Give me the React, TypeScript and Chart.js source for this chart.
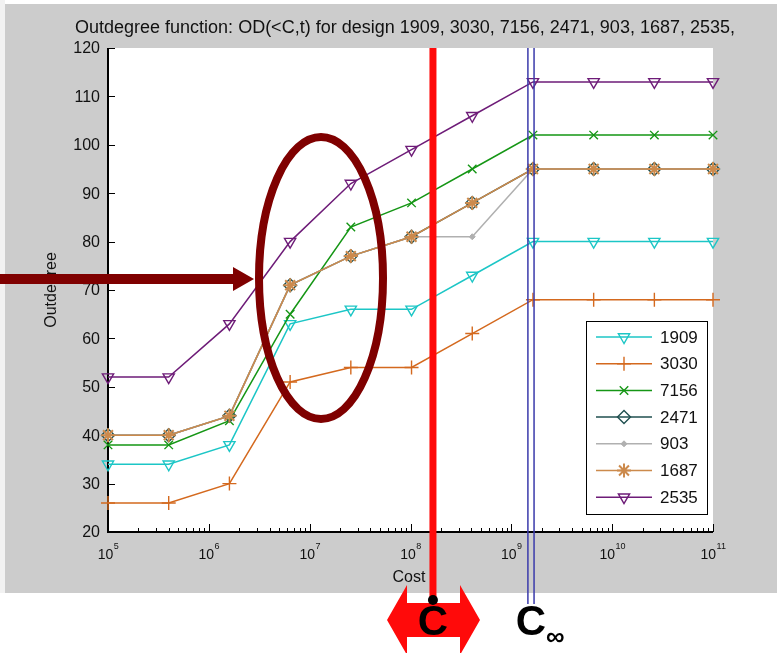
import React, { useEffect, useRef } from 'react';
import { Chart, registerables } from 'chart.js';
import { drawPoint } from 'chart.js/helpers';

Chart.register(...registerables);

// ---- data ----
const costs = [1e5, 4e5, 1.6e6, 6.4e6, 2.56e7, 1.024e8, 4.096e8, 1.6384e9, 6.5536e9, 2.62144e10, 1e11];
const designs = ['1909', '3030', '7156', '2471', '903', '1687', '2535'];
const od1909 = [34, 34, 38, 63, 66, 66, 73, 80, 80, 80, 80];
const od3030 = [26, 26, 30, 51, 54, 54, 61, 68, 68, 68, 68];
const od7156 = [38, 38, 43, 65, 83, 88, 95, 102, 102, 102, 102];
const od2471 = [40, 40, 44, 71, 77, 81, 88, 95, 95, 95, 95];
const od903 = [40, 40, 44, 71, 77, 81, 81, 95, 95, 95, 95];
const od1687 = [40, 40, 44, 71, 77, 81, 88, 95, 95, 95, 95];
const od2535 = [52, 52, 63, 80, 92, 99, 106, 113, 113, 113, 113];
const yTicks = [20, 30, 40, 50, 60, 70, 80, 90, 100, 110, 120];
const xTickExps = [5, 6, 7, 8, 9, 10, 11];
const cCost = 1.67e8;
const cInfLow = 1.46e9;
const cInfHigh = 1.68e9;

const seriesValues = [od1909, od3030, od7156, od2471, od903, od1687, od2535];

const FONT = "'Liberation Sans', Arial, sans-serif";

const styles = [
  { color: '#1cc6c6', pointStyle: 'triangle', rotation: 180, radius: 6.5, filled: false, bw: 1.4 },
  { color: '#d4691e', pointStyle: 'cross', rotation: 0, radius: 7, filled: false, bw: 1.4 },
  { color: '#159615', pointStyle: 'crossRot', rotation: 0, radius: 6, filled: false, bw: 1.4 },
  { color: '#1f4f4f', pointStyle: 'rectRot', rotation: 0, radius: 6.5, filled: false, bw: 1.4 },
  { color: '#b0b0b0', pointStyle: 'rectRot', rotation: 0, radius: 3, filled: true, bw: 1 },
  { color: '#cc8a4c', pointStyle: 'star', rotation: 0, radius: 7, filled: false, bw: 2 },
  { color: '#6e1c78', pointStyle: 'triangle', rotation: 180, radius: 6.5, filled: false, bw: 1.4 },
];

const decorPlugin = {
  id: 'decor',
  beforeDraw(chart: any) {
    const ctx = chart.ctx;
    const { left, right, top, bottom } = chart.chartArea;
    ctx.save();
    ctx.fillStyle = '#ffffff';
    ctx.fillRect(0, 0, chart.width, chart.height);
    ctx.fillStyle = '#f2f2f2';
    ctx.fillRect(0, 0, 5, 593);
    ctx.fillStyle = '#cccccc';
    ctx.fillRect(5, 4, chart.width - 5, 589);
    ctx.fillStyle = '#ffffff';
    ctx.fillRect(left, top, right - left, bottom - top);
    ctx.restore();
  },
  beforeDatasetsDraw(chart: any) {
    const ctx = chart.ctx;
    const xs = chart.scales.x;
    const ys = chart.scales.y;
    const { left, right, top, bottom } = chart.chartArea;
    ctx.save();
    ctx.strokeStyle = '#000';
    ctx.lineWidth = 1;
    // y ticks inward
    ctx.beginPath();
    yTicks.forEach((v) => {
      const y = Math.round(ys.getPixelForValue(v)) + 0.5;
      ctx.moveTo(left, y);
      ctx.lineTo(left + 7, y);
    });
    // x ticks inward, major + minor
    xTickExps.forEach((e) => {
      const x = Math.round(xs.getPixelForValue(Math.pow(10, e))) + 0.5;
      ctx.moveTo(x, bottom);
      ctx.lineTo(x, bottom - 8);
      if (e < 11) {
        for (let k = 2; k <= 9; k++) {
          const xm = Math.round(xs.getPixelForValue(k * Math.pow(10, e))) + 0.5;
          ctx.moveTo(xm, bottom);
          ctx.lineTo(xm, bottom - 4);
        }
      }
    });
    ctx.stroke();
    // axis lines
    ctx.lineWidth = 2;
    ctx.beginPath();
    ctx.moveTo(left, top);
    ctx.lineTo(left, bottom);
    ctx.lineTo(right, bottom);
    ctx.stroke();

    // tick labels
    ctx.fillStyle = '#111';
    ctx.font = `16px ${FONT}`;
    ctx.textAlign = 'right';
    ctx.textBaseline = 'middle';
    yTicks.forEach((v) => {
      ctx.fillText(String(v), left - 8, ys.getPixelForValue(v) + 1);
    });
    ctx.textBaseline = 'alphabetic';
    ctx.textAlign = 'left';
    xTickExps.forEach((e) => {
      const x = xs.getPixelForValue(Math.pow(10, e));
      ctx.font = `14px ${FONT}`;
      const w1 = ctx.measureText('10').width;
      ctx.font = `9px ${FONT}`;
      const w2 = ctx.measureText(String(e)).width;
      const x0 = x - (w1 + w2) / 2;
      ctx.font = `14px ${FONT}`;
      ctx.fillText('10', x0, 559);
      ctx.font = `9px ${FONT}`;
      ctx.fillText(String(e), x0 + w1 + 0.5, 549);
    });

    // axis titles
    ctx.font = `16px ${FONT}`;
    ctx.textAlign = 'center';
    ctx.fillText('Cost', 409, 582);
    ctx.save();
    ctx.translate(56, 290);
    ctx.rotate(-Math.PI / 2);
    ctx.fillText('Outdegree', 0, 0);
    ctx.restore();

    // title
    ctx.font = `18px ${FONT}`;
    ctx.textAlign = 'center';
    ctx.fillText('Outdegree function: OD(<C,t) for design 1909, 3030, 7156, 2471, 903, 1687, 2535,', 405, 33);
    ctx.restore();
  },
  afterDraw(chart: any) {
    const ctx = chart.ctx;
    const xs = chart.scales.x;
    const { top } = chart.chartArea;
    ctx.save();

    // legend
    const lx = 586, ly = 321, lw = 121, lh = 193;
    ctx.fillStyle = '#fff';
    ctx.fillRect(lx, ly, lw, lh);
    ctx.strokeStyle = '#000';
    ctx.lineWidth = 1;
    ctx.strokeRect(lx + 0.5, ly + 0.5, lw, lh);
    designs.forEach((d, i) => {
      const st = styles[i];
      const y = 337 + i * 26.7;
      ctx.strokeStyle = st.color;
      ctx.lineWidth = 1.5;
      ctx.beginPath();
      ctx.moveTo(596, y);
      ctx.lineTo(652, y);
      ctx.stroke();
      ctx.fillStyle = st.filled ? st.color : 'rgba(0,0,0,0)';
      ctx.lineWidth = st.bw;
      drawPoint(ctx, { pointStyle: st.pointStyle, rotation: st.rotation, radius: st.radius, borderWidth: st.bw } as any, 624, y);
      ctx.fillStyle = '#111';
      ctx.font = `17px ${FONT}`;
      ctx.textAlign = 'left';
      ctx.textBaseline = 'middle';
      ctx.fillText(d, 660, y + 1);
    });

    // red C line
    const xc = xs.getPixelForValue(cCost);
    ctx.fillStyle = '#ff0a0a';
    ctx.fillRect(xc - 3.5, top, 7, 600 - top);
    // red double arrow
    ctx.beginPath();
    ctx.moveTo(387, 620);
    ctx.lineTo(407, 585);
    ctx.lineTo(407, 603);
    ctx.lineTo(460, 603);
    ctx.lineTo(460, 585);
    ctx.lineTo(480, 620);
    ctx.lineTo(460, 655);
    ctx.lineTo(460, 637);
    ctx.lineTo(407, 637);
    ctx.lineTo(407, 655);
    ctx.closePath();
    ctx.fill();
    // black dot
    ctx.fillStyle = '#000';
    ctx.beginPath();
    ctx.arc(xc, 600, 5, 0, Math.PI * 2);
    ctx.fill();

    // blue C-infinity lines
    ctx.strokeStyle = '#3b3bab';
    ctx.lineWidth = 1.5;
    ctx.beginPath();
    [cInfLow, cInfHigh].forEach((v) => {
      const x = xs.getPixelForValue(v);
      ctx.moveTo(x, top);
      ctx.lineTo(x, 604);
    });
    ctx.stroke();

    // letters
    ctx.fillStyle = '#000';
    ctx.font = `bold 42px ${FONT}`;
    ctx.textAlign = 'center';
    ctx.textBaseline = 'alphabetic';
    ctx.fillText('C', 433, 635);
    ctx.fillText('C', 531, 635);
    ctx.font = `bold 26px ${FONT}`;
    ctx.textAlign = 'left';
    ctx.fillText('\u221E', 546, 645);

    // ellipse
    ctx.strokeStyle = '#7f0000';
    ctx.lineWidth = 8;
    ctx.beginPath();
    ctx.ellipse(321, 278, 62, 141, 0, 0, Math.PI * 2);
    ctx.stroke();

    // arrow
    ctx.fillStyle = '#7f0000';
    ctx.beginPath();
    ctx.moveTo(0, 274);
    ctx.lineTo(233, 274);
    ctx.lineTo(233, 267);
    ctx.lineTo(254, 279);
    ctx.lineTo(233, 291);
    ctx.lineTo(233, 284);
    ctx.lineTo(0, 284);
    ctx.closePath();
    ctx.fill();

    ctx.restore();
  },
};

export default function App() {
  const ref = useRef<HTMLCanvasElement | null>(null);
  useEffect(() => {
    if (!ref.current) return;
    const datasets = designs.map((d, i) => {
      const st = styles[i];
      return {
        label: d,
        data: costs.map((c, j) => ({ x: c, y: seriesValues[i][j] })),
        borderColor: st.color,
        backgroundColor: st.filled ? st.color : 'rgba(0,0,0,0)',
        borderWidth: 1.5,
        pointStyle: st.pointStyle,
        pointRotation: st.rotation,
        pointRadius: st.radius,
        pointBorderWidth: st.bw,
        pointBorderColor: st.color,
        pointBackgroundColor: st.filled ? st.color : 'rgba(0,0,0,0)',
        tension: 0,
        clip: false,
        order: designs.length - i,
      };
    });
    const chart = new Chart(ref.current, {
      type: 'line',
      data: { datasets: datasets as any },
      options: {
        responsive: false,
        animation: false,
        events: [],
        layout: { autoPadding: false, padding: { left: 8, right: 64, top: 48, bottom: 0 } },
        scales: {
          x: {
            type: 'logarithmic',
            min: 1e5,
            max: 1e11,
            grid: { display: false },
            border: { display: false },
            ticks: { display: false },
            afterFit: (s: any) => { s.height = 121; },
          },
          y: {
            type: 'linear',
            min: 20,
            max: 120,
            grid: { display: false },
            border: { display: false },
            ticks: { display: false },
            afterFit: (s: any) => { s.width = 100; },
          },
        },
        plugins: { legend: { display: false }, tooltip: { enabled: false }, title: { display: false } },
      } as any,
      plugins: [decorPlugin],
    });
    return () => chart.destroy();
  }, []);
  return (
    <div style={{ position: 'absolute', left: 0, top: 0, width: 777, height: 653 }}>
      <canvas ref={ref} width={777} height={653} style={{ display: 'block' }} />
    </div>
  );
}
